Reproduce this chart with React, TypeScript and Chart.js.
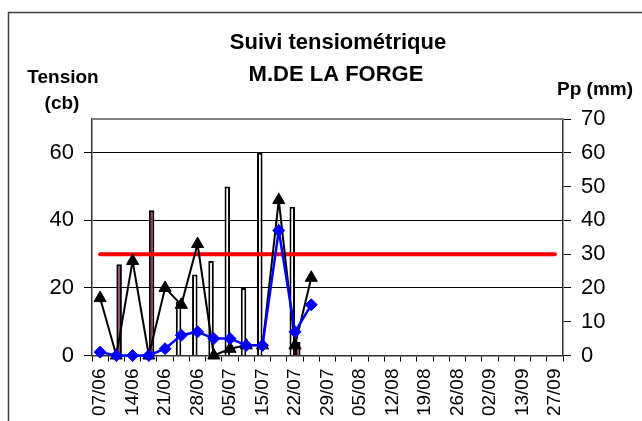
import React, { useEffect, useRef } from "react";
import { Chart, registerables } from "chart.js";

Chart.register(...registerables);

const FONT = "'Liberation Sans', Arial, Helvetica, sans-serif";

const TITLE_LINES = ["Suivi tensiométrique", "M.DE LA FORGE"];
const LEFT_AXIS_TITLE = ["Tension", "(cb)"];
const RIGHT_AXIS_TITLE = "Pp (mm)";

const categories = [
  "07/06", "11/06", "14/06", "18/06", "21/06", "25/06", "28/06", "01/07",
  "05/07", "08/07", "15/07", "19/07", "22/07", "26/07", "29/07", "01/08",
  "05/08", "08/08", "12/08", "15/08", "19/08", "22/08", "26/08", "29/08",
  "02/09", "09/09", "13/09", "20/09", "27/09",
];

// Pp (mm) — right axis
const irrigation = [null, null, null, null, null, 16, 24, 28, 50, 20, 60, null, 44, null];
const pluie = [null, 27, null, 43, null, null, null, null, null, null, null, null, 4, null];

// Tension (cb) — left axis
const tensionA = [17, 0, 28, 0, 20, 15, 33, 0, 2, 3, 3, 46, 3, 23];
const tensionB = [1, 0, 0, 0, 2, 6, 7, 5, 5, 3, 3, 37, 7, 15];
const seuil = [
  30, 30, 30, 30, 30, 30, 30, 30, 30, 30, 30, 30, 30, 30, 30,
  30, 30, 30, 30, 30, 30, 30, 30, 30, 30, 30, 30, 30, 30,
];

const leftTickValues = [0, 20, 40, 60];
const leftRange = { min: 0, max: 70 };
const rightTicks = { min: 0, max: 70, step: 10 };

const decorPlugin = {
  id: "decor",
  beforeDraw(chart: any) {
    const ctx = chart.ctx;
    ctx.save();
    ctx.fillStyle = "#ffffff";
    ctx.fillRect(0, 0, chart.width, chart.height);
    ctx.restore();
  },
  afterDraw(chart: any) {
    const ctx = chart.ctx;
    const { left, right, top } = chart.chartArea;
    ctx.save();
    // plot area top border
    ctx.strokeStyle = "#808080";
    ctx.lineWidth = 2;
    ctx.beginPath();
    ctx.moveTo(left, top);
    ctx.lineTo(right, top);
    ctx.stroke();
    // outer chart frame
    ctx.strokeStyle = "#404040";
    ctx.lineWidth = 1.5;
    ctx.strokeRect(8.5, 12.5, 800, 600);
    // texts
    ctx.fillStyle = "#000";
    ctx.textAlign = "center";
    ctx.textBaseline = "alphabetic";
    ctx.font = `bold 22px ${FONT}`;
    ctx.fillText(TITLE_LINES[0], 338, 49);
    ctx.fillText(TITLE_LINES[1], 336, 81);
    ctx.font = `bold 19px ${FONT}`;
    ctx.fillText(LEFT_AXIS_TITLE[0], 63, 83);
    ctx.fillText(LEFT_AXIS_TITLE[1], 62, 109);
    ctx.fillText(RIGHT_AXIS_TITLE, 595, 95);
    ctx.restore();
  },
};

export default function App() {
  const canvasRef = useRef<HTMLCanvasElement | null>(null);

  useEffect(() => {
    const canvas = canvasRef.current;
    if (!canvas) return;
    const chart = new Chart(canvas, {
      type: "bar",
      data: {
        labels: categories,
        datasets: [
          {
            type: "line",
            label: "Tension B",
            data: tensionB,
            yAxisID: "y",
            borderColor: "#0000FF",
            backgroundColor: "#0000FF",
            borderWidth: 2.5,
            pointStyle: "rectRot",
            pointRadius: 6,
            pointBorderWidth: 1,
            pointBackgroundColor: "#0000FF",
            pointBorderColor: "#0000FF",
            tension: 0,
            clip: false,
            order: 1,
          } as any,
          {
            type: "line",
            label: "Tension A",
            data: tensionA,
            yAxisID: "y",
            borderColor: "#000000",
            backgroundColor: "#000000",
            borderWidth: 2,
            pointStyle: "triangle",
            pointRadius: 7,
            pointBorderWidth: 1,
            pointBackgroundColor: "#000000",
            pointBorderColor: "#000000",
            tension: 0,
            clip: false,
            order: 2,
          } as any,
          {
            type: "line",
            label: "Seuil",
            data: seuil,
            yAxisID: "y",
            borderColor: "#FF0000",
            borderWidth: 4,
            borderCapStyle: "round",
            pointRadius: 0,
            tension: 0,
            clip: false,
            order: 3,
          } as any,
          {
            type: "bar",
            label: "Irrigation",
            data: irrigation,
            yAxisID: "y1",
            backgroundColor: "#FFFFFF",
            borderColor: "#000000",
            borderWidth: 2,
            categoryPercentage: 0.68,
            barPercentage: 1,
            order: 4,
          } as any,
          {
            type: "bar",
            label: "Pluie",
            data: pluie,
            yAxisID: "y1",
            backgroundColor: "#993366",
            borderColor: "#000000",
            borderWidth: 2,
            categoryPercentage: 0.68,
            barPercentage: 1,
            order: 5,
          } as any,
        ],
      },
      options: {
        responsive: false,
        animation: false,
        events: [],
        layout: { padding: { top: 119, left: 0, right: 0, bottom: 0 } },
        plugins: {
          legend: { display: false },
          title: { display: false },
          tooltip: { enabled: false },
        },
        scales: {
          x: {
            type: "category",
            offset: true,
            grid: {
              offset: true,
              drawOnChartArea: false,
              drawTicks: true,
              tickLength: 6,
              color: "#000000",
              lineWidth: 1,
            },
            border: { display: true, color: "#333333", width: 1.5 },
            ticks: {
              autoSkip: false,
              minRotation: 90,
              maxRotation: 90,
              padding: 7,
              color: "#000000",
              font: { family: FONT, size: 19 },
              callback: (_v: any, i: number) => (i % 2 === 0 ? categories[i] : ""),
            },
            afterFit: (s: any) => {
              s.height = 65.5;
            },
          },
          y: {
            type: "linear",
            position: "left",
            min: leftRange.min,
            max: leftRange.max,
            grid: {
              drawOnChartArea: true,
              drawTicks: true,
              tickLength: 8,
              color: "#000000",
              lineWidth: 1,
            },
            border: { display: true, color: "#333333", width: 1.5 },
            ticks: {
              padding: 10,
              color: "#000000",
              font: { family: FONT, size: 22 },
            },
            afterBuildTicks: (s: any) => {
              s.ticks = leftTickValues.map((v) => ({ value: v }));
            },
            afterFit: (s: any) => {
              s.width = 92;
            },
          } as any,
          y1: {
            type: "linear",
            position: "right",
            min: rightTicks.min,
            max: rightTicks.max,
            grid: {
              drawOnChartArea: false,
              drawTicks: true,
              tickLength: 8,
              color: "#000000",
              lineWidth: 1,
            },
            border: { display: true, color: "#333333", width: 1.5 },
            ticks: {
              stepSize: rightTicks.step,
              padding: 10,
              color: "#000000",
              font: { family: FONT, size: 22 },
            },
            afterFit: (s: any) => {
              s.width = 79;
            },
          },
        },
      },
      plugins: [decorPlugin],
    });
    return () => chart.destroy();
  }, []);

  return (
    <div style={{ position: "absolute", left: 0, top: 0, width: 642, height: 421, background: "#fff" }}>
      <canvas ref={canvasRef} width={642} height={421} style={{ display: "block" }} />
    </div>
  );
}
